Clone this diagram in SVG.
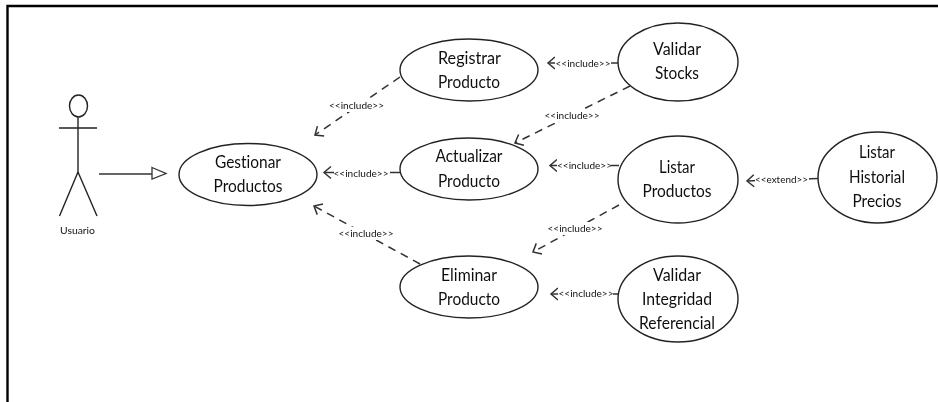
<svg xmlns="http://www.w3.org/2000/svg" width="938" height="402" viewBox="0 0 938 402">
<style>
.n{fill:#fff;stroke:#222;stroke-width:1.4}
.c{fill:none;stroke:#333;stroke-width:1.5}
.d{stroke-dasharray:8 6}
.t{font-family:Lato,"Liberation Sans",sans-serif;font-size:17px;fill:#111;text-anchor:middle;font-variant-ligatures:none}
.l{font-family:Lato,"Liberation Sans",sans-serif;font-size:10px;fill:#111;text-anchor:middle;font-variant-ligatures:none}
.a{fill:none;stroke:#222;stroke-width:1.4}
</style>
<defs>
<marker id="o" markerUnits="userSpaceOnUse" markerWidth="14" markerHeight="16" refX="9" refY="8" orient="auto"><path d="M2 2 L9 8 L2 14" fill="none" stroke="#333" stroke-width="1.5"/></marker>
<filter id="s" filterUnits="userSpaceOnUse" x="0" y="0" width="938" height="402"><feGaussianBlur stdDeviation="0.3"/></filter>
</defs>
<rect width="938" height="402" fill="#fff"/>
<g filter="url(#s)">
<path id="frame" d="M7.500 403V6H939" fill="none" stroke="#000" stroke-width="2.400"/>
<g id="connectors">
<path class="c" d="M99 174H152"/>
<path d="M152 167.500L166 173.500L152 179Z" fill="#fff" stroke="#333" stroke-width="1.3"/>
<path class="c d" d="M400 77L315 135" marker-end="url(#o)"/>
<path class="c" d="M400 172.500H324" marker-end="url(#o)"/>
<path class="c d" d="M420 264L314 206" marker-end="url(#o)"/>
<path class="c" d="M618 63H548" marker-end="url(#o)"/>
<path class="c d" d="M630 86L515 143" marker-end="url(#o)"/>
<path class="c" d="M619 165.500H550" marker-end="url(#o)"/>
<path class="c d" d="M619 205L533 252" marker-end="url(#o)"/>
<path class="c" d="M818 178.500L747 181" marker-end="url(#o)"/>
<path class="c" d="M618 294H551" marker-end="url(#o)"/>
<g id="labels">
<rect x="329" y="99" width="56" height="13" fill="#fff"/><text class="l" x="356.500" y="109" textLength="55" lengthAdjust="spacingAndGlyphs">&lt;&lt;include&gt;&gt;</text>
<rect x="334" y="167" width="56" height="12" fill="#fff"/><text class="l" x="361" y="176.500" textLength="55" lengthAdjust="spacingAndGlyphs">&lt;&lt;include&gt;&gt;</text>
<rect x="338" y="227" width="56" height="13" fill="#fff"/><text class="l" x="366" y="237" textLength="55" lengthAdjust="spacingAndGlyphs">&lt;&lt;include&gt;&gt;</text>
<rect x="555" y="57" width="56" height="13" fill="#fff"/><text class="l" x="583" y="67" textLength="55" lengthAdjust="spacingAndGlyphs">&lt;&lt;include&gt;&gt;</text>
<rect x="544" y="109" width="57" height="13" fill="#fff"/><text class="l" x="572" y="119" textLength="55" lengthAdjust="spacingAndGlyphs">&lt;&lt;include&gt;&gt;</text>
<rect x="557" y="159" width="54" height="13" fill="#fff"/><text class="l" x="584.500" y="169" textLength="55" lengthAdjust="spacingAndGlyphs">&lt;&lt;include&gt;&gt;</text>
<rect x="547" y="222" width="57" height="13" fill="#fff"/><text class="l" x="575" y="232" textLength="55" lengthAdjust="spacingAndGlyphs">&lt;&lt;include&gt;&gt;</text>
<rect x="755" y="173" width="54" height="13" fill="#fff"/><text class="l" x="781.500" y="183" textLength="53" lengthAdjust="spacingAndGlyphs">&lt;&lt;extend&gt;&gt;</text>
<rect x="558" y="287" width="55" height="13" fill="#fff"/><text class="l" x="586" y="297" textLength="55" lengthAdjust="spacingAndGlyphs">&lt;&lt;include&gt;&gt;</text>
</g>
</g>
<g id="usuario">
<ellipse class="a" cx="78.500" cy="106" rx="9" ry="11"/>
<path class="a" d="M78 117V172M59 128H97M78 172L59.500 216M78 172L97 216"/>
<text class="l" x="77.500" y="234" textLength="35" lengthAdjust="spacingAndGlyphs">Usuario</text>
</g>
<g id="gestionar"><ellipse class="n" cx="248" cy="174.500" rx="69" ry="31"/><text class="t" x="248" y="168" textLength="66" lengthAdjust="spacingAndGlyphs">Gestionar</text><text class="t" x="248" y="192" textLength="69" lengthAdjust="spacingAndGlyphs">Productos</text></g>
<g id="registrar"><ellipse class="n" cx="469" cy="70" rx="69" ry="31"/><text class="t" x="469.500" y="64" textLength="63" lengthAdjust="spacingAndGlyphs">Registrar</text><text class="t" x="469" y="88" textLength="62" lengthAdjust="spacingAndGlyphs">Producto</text></g>
<g id="actualizar"><ellipse class="n" cx="469" cy="169" rx="69" ry="31"/><text class="t" x="469" y="162" textLength="67" lengthAdjust="spacingAndGlyphs">Actualizar</text><text class="t" x="469" y="187" textLength="62" lengthAdjust="spacingAndGlyphs">Producto</text></g>
<g id="eliminar"><ellipse class="n" cx="469" cy="287" rx="69" ry="31"/><text class="t" x="469" y="281" textLength="56" lengthAdjust="spacingAndGlyphs">Eliminar</text><text class="t" x="469" y="305" textLength="62" lengthAdjust="spacingAndGlyphs">Producto</text></g>
<g id="validar-stocks"><ellipse class="n" cx="678" cy="62" rx="60" ry="39"/><text class="t" x="677" y="55" textLength="48" lengthAdjust="spacingAndGlyphs">Validar</text><text class="t" x="677" y="79" textLength="44" lengthAdjust="spacingAndGlyphs">Stocks</text></g>
<g id="listar-productos"><ellipse class="n" cx="678" cy="179.500" rx="60" ry="43.500"/><text class="t" x="677" y="173" textLength="36" lengthAdjust="spacingAndGlyphs">Listar</text><text class="t" x="677" y="197" textLength="69" lengthAdjust="spacingAndGlyphs">Productos</text></g>
<g id="validar-integridad"><ellipse class="n" cx="678" cy="299" rx="60" ry="43"/><text class="t" x="677" y="281" textLength="48" lengthAdjust="spacingAndGlyphs">Validar</text><text class="t" x="677" y="305" textLength="70" lengthAdjust="spacingAndGlyphs">Integridad</text><text class="t" x="677" y="329" textLength="76" lengthAdjust="spacingAndGlyphs">Referencial</text></g>
<g id="listar-historial"><ellipse class="n" cx="877.500" cy="177.500" rx="59.500" ry="45.500"/><text class="t" x="877" y="158" textLength="36" lengthAdjust="spacingAndGlyphs">Listar</text><text class="t" x="877" y="183" textLength="56" lengthAdjust="spacingAndGlyphs">Historial</text><text class="t" x="877" y="207" textLength="49" lengthAdjust="spacingAndGlyphs">Precios</text></g>
</g>
</svg>
